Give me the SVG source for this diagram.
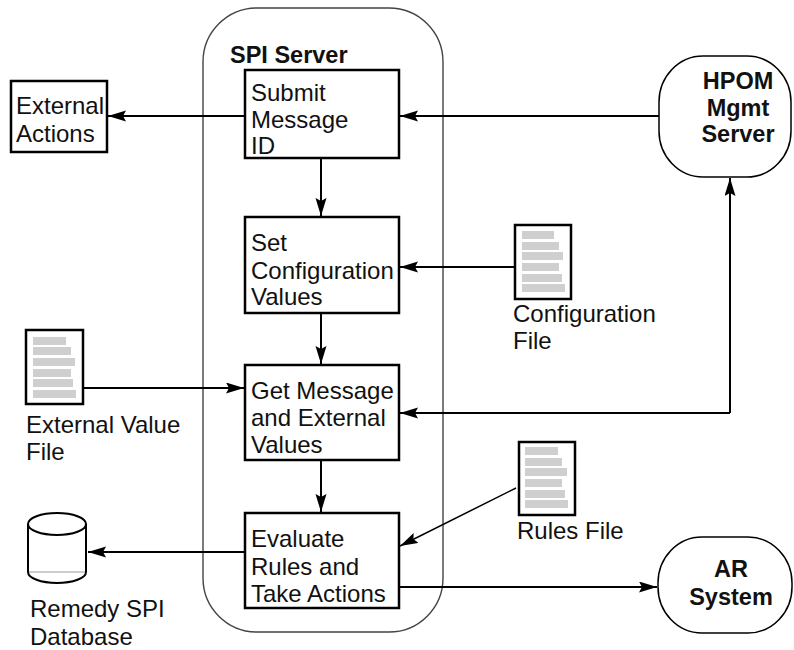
<svg xmlns="http://www.w3.org/2000/svg" width="794" height="650" viewBox="0 0 794 650">
<defs>
<marker id="ah" markerUnits="userSpaceOnUse" markerWidth="19" markerHeight="12" refX="18" refY="5.5" orient="auto">
<path d="M0,0 L18,5.5 L0,11 L3,5.5 z" fill="#000"/>
</marker>
<style>
.t{font-family:"Liberation Sans",Arial,sans-serif;font-size:24px;fill:#111}
.b{font-family:"Liberation Sans",Arial,sans-serif;font-size:23.5px;font-weight:bold;fill:#111}
.box{fill:#fff;stroke:#000;stroke-width:2.5}
.doc{fill:#fff;stroke:#000;stroke-width:2.5}
.bar{fill:#cfcfcf}
.ell{fill:#fff;stroke:#000;stroke-width:1.5}
.c{fill:none;stroke:#000;stroke-width:2;marker-end:url(#ah)}
</style>
</defs>
<rect width="794" height="650" fill="#fff"/>

<g id="spi-server">
<rect x="203" y="8" width="240" height="624" rx="54" ry="54" fill="none" stroke="#444" stroke-width="1.4"/>
<text class="b" x="230" y="63">SPI Server</text>
</g>

<g id="connectors">
<line class="c" x1="245" y1="116" x2="108" y2="116"/>
<line class="c" x1="659" y1="116" x2="400" y2="116"/>
<line class="c" x1="321" y1="158" x2="321" y2="216"/>
<line class="c" x1="515" y1="267" x2="400" y2="267"/>
<line class="c" x1="321" y1="313" x2="321" y2="364"/>
<line class="c" x1="84" y1="388" x2="244" y2="388"/>
<line class="c" x1="730" y1="413" x2="400" y2="413"/>
<line class="c" x1="730" y1="413" x2="730" y2="178"/>
<line class="c" x1="321" y1="460" x2="321" y2="512"/>
<line class="c" x1="516" y1="488" x2="400" y2="546" style="stroke-width:1.5"/>
<line class="c" x1="245" y1="552" x2="88" y2="552"/>
<line class="c" x1="400" y1="587" x2="657" y2="587"/>
</g>

<g id="external-actions">
<rect class="box" x="11" y="81" width="96" height="71"/>
<text class="t" x="16" y="114">External</text>
<text class="t" x="16" y="142">Actions</text>
</g>

<g id="submit-message-id">
<rect class="box" x="245" y="70" width="154" height="88"/>
<text class="t" x="251" y="101">Submit</text>
<text class="t" x="251" y="128">Message</text>
<text class="t" x="251" y="154">ID</text>
</g>

<g id="set-configuration-values">
<rect class="box" x="245" y="217" width="154" height="96"/>
<text class="t" x="251" y="251">Set</text>
<text class="t" x="251" y="279">Configuration</text>
<text class="t" x="251" y="305">Values</text>
</g>

<g id="get-message">
<rect class="box" x="245" y="365" width="154" height="95"/>
<text class="t" x="251" y="399">Get Message</text>
<text class="t" x="251" y="426">and External</text>
<text class="t" x="251" y="453">Values</text>
</g>

<g id="evaluate-rules">
<rect class="box" x="245" y="513" width="154" height="95"/>
<text class="t" x="251" y="547">Evaluate</text>
<text class="t" x="251" y="575">Rules and</text>
<text class="t" x="251" y="602">Take Actions</text>
</g>

<g id="hpom-mgmt-server">
<rect class="ell" x="659" y="56" width="132" height="121" rx="44" ry="46"/>
<text class="b" x="738" y="89" text-anchor="middle">HPOM</text>
<text class="b" x="738" y="116" text-anchor="middle">Mgmt</text>
<text class="b" x="738" y="142" text-anchor="middle">Server</text>
</g>

<g id="ar-system">
<rect class="ell" x="658" y="537" width="134" height="96" rx="44" ry="46"/>
<text class="b" x="731" y="577" text-anchor="middle">AR</text>
<text class="b" x="731" y="605" text-anchor="middle">System</text>
</g>

<g id="configuration-file">
<rect class="doc" x="515" y="225" width="56" height="74"/>
<rect class="bar" x="522" y="231" width="32" height="8"/>
<rect class="bar" x="522" y="242" width="37" height="8"/>
<rect class="bar" x="522" y="252" width="41" height="8"/>
<rect class="bar" x="522" y="263" width="37" height="8"/>
<rect class="bar" x="522" y="274" width="40" height="8"/>
<rect class="bar" x="522" y="284" width="43" height="8"/>
<text class="t" x="513" y="322">Configuration</text>
<text class="t" x="513" y="349">File</text>
</g>

<g id="external-value-file">
<rect class="doc" x="26" y="330" width="57" height="74"/>
<rect class="bar" x="33" y="337" width="33" height="8"/>
<rect class="bar" x="33" y="347" width="38" height="8"/>
<rect class="bar" x="33" y="358" width="42" height="8"/>
<rect class="bar" x="33" y="369" width="38" height="8"/>
<rect class="bar" x="33" y="379" width="40" height="8"/>
<rect class="bar" x="33" y="390" width="43" height="8"/>
<text class="t" x="26" y="433">External Value</text>
<text class="t" x="26" y="460">File</text>
</g>

<g id="rules-file">
<rect class="doc" x="519" y="442" width="56" height="73"/>
<rect class="bar" x="525" y="447" width="33" height="8"/>
<rect class="bar" x="525" y="458" width="37" height="8"/>
<rect class="bar" x="525" y="468" width="42" height="8"/>
<rect class="bar" x="525" y="479" width="37" height="8"/>
<rect class="bar" x="525" y="490" width="40" height="8"/>
<rect class="bar" x="525" y="500" width="43" height="8"/>
<text class="t" x="517" y="539">Rules File</text>
</g>

<g id="remedy-spi-database">
<path d="M28,524 L28,572 A29,11 0 0 0 86,572 L86,524" fill="#fff" stroke="#000" stroke-width="2"/>
<line x1="29" y1="572" x2="85" y2="572" stroke="#999" stroke-width="1"/>
<ellipse cx="57" cy="524" rx="29" ry="11" fill="#fff" stroke="#000" stroke-width="2"/>
<text class="t" x="30" y="617">Remedy SPI</text>
<text class="t" x="30" y="645">Database</text>
</g>
</svg>
